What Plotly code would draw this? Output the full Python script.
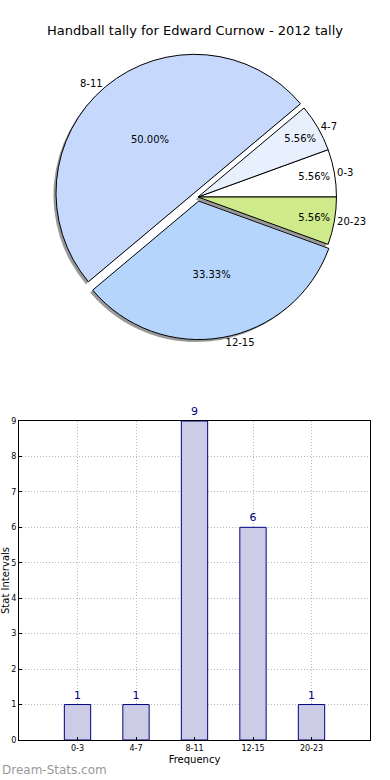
import plotly.graph_objects as go

categories = ["0-3", "4-7", "8-11", "12-15", "20-23"]
counts = [1, 1, 9, 6, 1]
pie_colors = ["#ffffff", "#e8f0fd", "#c6d9fd", "#b5d5fd", "#cfea8a"]
pulls = [0, 0, 0.04, 0.03, 0]
y_ticks = list(range(0, 10))

W, H = 390, 780
ML, MR, MT, MB = 19, 20, 0, 40
PW, PH = W - ML - MR, H - MT - MB

def px_x(x):
    return (x - ML) / PW

def px_y(y):
    return (H - MB - y) / PH

PIE_ROT = 70
pie_dom_x = [px_x(54), px_x(342)]
pie_dom_y = [px_y(341), px_y(53)]
sx, sy = 2.5 / PW, 2.5 / PH

fig = go.Figure()

# shadow
fig.add_trace(go.Pie(
    labels=categories, values=counts, sort=False, direction="counterclockwise",
    rotation=PIE_ROT, pull=pulls,
    marker=dict(colors=["rgba(0,0,0,0.4)"] * len(counts), line=dict(width=0)),
    textinfo="none", hoverinfo="skip", showlegend=False,
    domain=dict(x=[pie_dom_x[0] - sx, pie_dom_x[1] - sx], y=[pie_dom_y[0] - sy, pie_dom_y[1] - sy]),
))
# main pie with percents inside
fig.add_trace(go.Pie(
    labels=categories, values=counts, sort=False, direction="counterclockwise",
    rotation=PIE_ROT, pull=pulls,
    marker=dict(colors=pie_colors, line=dict(color="black", width=1)),
    texttemplate="%{percent:.2%}", textposition="inside", insidetextorientation="horizontal",
    textfont=dict(family="DejaVu Sans", size=10, color="black"),
    showlegend=False,
    domain=dict(x=pie_dom_x, y=pie_dom_y),
))
# labels outside
fig.add_trace(go.Pie(
    labels=categories, values=counts, sort=False, direction="counterclockwise",
    rotation=PIE_ROT, pull=pulls,
    marker=dict(colors=["rgba(0,0,0,0)"] * len(counts), line=dict(width=0)),
    texttemplate="%{label}", textposition="outside",
    textfont=dict(family="DejaVu Sans", size=10, color="black"),
    hoverinfo="skip", showlegend=False,
    domain=dict(x=pie_dom_x, y=pie_dom_y),
))

fig.add_trace(go.Bar(
    x=list(range(len(categories))), y=counts, width=0.45,
    marker=dict(color="#ccccE6", line=dict(color="#000080", width=1)),
    text=counts, textposition="outside", cliponaxis=False,
    textfont=dict(family="DejaVu Sans", size=11, color="#000080"),
    xaxis="x", yaxis="y", showlegend=False,
))

grid_kw = dict(showgrid=True, gridcolor="#b8b8b8", griddash="1px,2px", gridwidth=1)

fig.update_layout(
    width=W, height=H, autosize=False,
    margin=dict(l=ML, r=MR, t=MT, b=MB, autoexpand=False),
    paper_bgcolor="white", plot_bgcolor="white",
    font=dict(family="DejaVu Sans", color="black"),
    title=dict(text="Handball tally for Edward Curnow - 2012 tally",
               x=0.5, xanchor="center", y=1 - 30 / H, yanchor="middle",
               font=dict(size=13, color="black")),
    xaxis=dict(domain=[0, 1], range=[-1, 5], tickvals=list(range(len(categories))),
               ticktext=categories, **grid_kw,
               showline=True, linecolor="black", mirror=True, linewidth=1,
               ticks="inside", ticklen=3, tickcolor="black", tickfont=dict(size=8),
               layer="above traces", zeroline=False, automargin=False,
               title=dict(text="Frequency", font=dict(size=10), standoff=4)),
    yaxis=dict(domain=[0, px_y(421)], range=[0, 9], tickvals=y_ticks, **grid_kw,
               showline=True, linecolor="black", mirror=True, linewidth=1,
               ticks="inside", ticklen=3, tickcolor="black", tickfont=dict(size=8),
               layer="above traces", zeroline=False, automargin=False,
               title=dict(text="Stat Intervals", font=dict(size=10), standoff=2)),
    annotations=[dict(text="Dream-Stats.com", x=-ML / PW, y=px_y(770), xref="paper", yref="paper",
                      showarrow=False, xanchor="left", yanchor="middle",
                      font=dict(size=12, color="#999999"))],
)

fig.write_html(
    "out.html",
    config={"displayModeBar": False, "responsive": False},
    post_script=(
        "document.body.style.margin='0';document.body.style.overflow='hidden';"
        "var gd=document.getElementById('{plot_id}');"
        "Plotly.relayout(gd,{width:390,height:780});"
    ),
)
